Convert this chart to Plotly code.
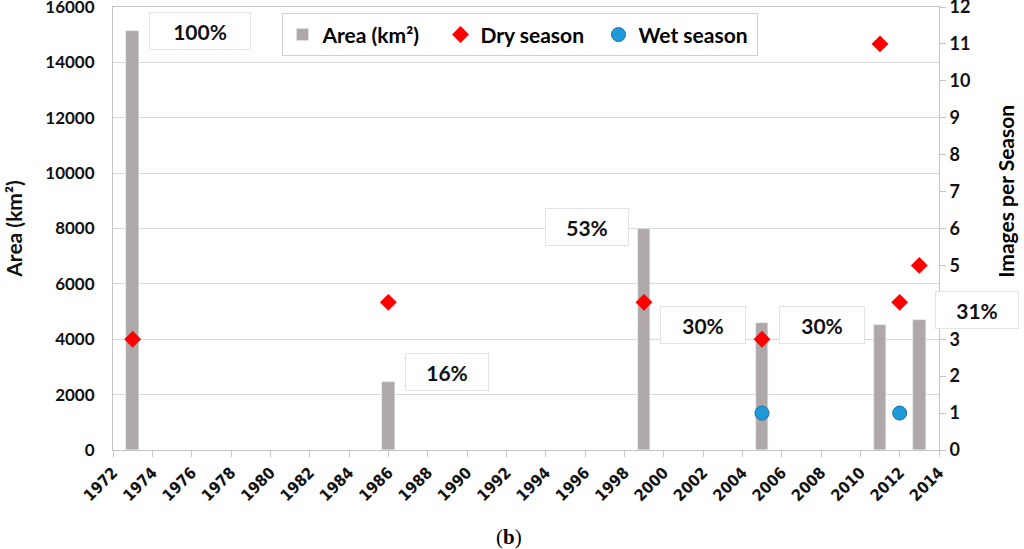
import plotly.graph_objects as go

# --- data ---
bar_years = [1973, 1986, 1999, 2005, 2011, 2013]
area_km2 = [15150, 2450, 8000, 4580, 4520, 4680]

dry_years = [1973, 1986, 1999, 2005, 2011, 2012, 2013]
dry_images = [3, 4, 4, 3, 11, 4, 5]

wet_years = [2005, 2012]
wet_images = [1, 1]

pct_labels = ["100%", "16%", "53%", "30%", "30%", "31%"]
# label box centres (paper fractions) and box widths
pct_x = [0.105, 0.404, 0.574, 0.714, 0.858, 1.046]
pct_y = [0.945, 0.177, 0.503, 0.282, 0.282, 0.316]
pct_w = [98, 80, 80, 82, 82, 80]

FONT = "Lato, 'Open Sans', sans-serif"
GRID = "#d9d9d9"
AXIS = "#c4c4c4"

fig = go.Figure()

# Barras de área
fig.add_trace(go.Bar(
    x=bar_years, y=area_km2, name="Area (km²)",
    marker_color="#aea8a8", width=0.66,
))

# Estação seca
fig.add_trace(go.Scatter(
    x=dry_years, y=dry_images, name="Dry season", yaxis="y2",
    mode="markers",
    marker=dict(symbol="diamond", size=13, color="#ff0000"),
))

# Estação chuvosa
fig.add_trace(go.Scatter(
    x=wet_years, y=wet_images, name="Wet season", yaxis="y2",
    mode="markers",
    marker=dict(symbol="circle", size=14, color="#1e9ad8",
                line=dict(color="#1b6ea3", width=1)),
))

# titulo do eixo direito (fica atras da caixa de 31%)
fig.add_annotation(
    x=1.081, y=0.585, xref="paper", yref="paper", xanchor="center", yanchor="middle",
    text="Images per Season", textangle=-90, showarrow=False,
    font=dict(family=FONT, size=21, color="#000", weight="bold"),
)

for txt, ax, ay, w in zip(pct_labels, pct_x, pct_y, pct_w):
    fig.add_annotation(
        x=ax, y=ay, xref="paper", yref="paper", xanchor="center", yanchor="middle",
        text=txt, showarrow=False,
        width=w, height=34, bgcolor="white", bordercolor="#e3e3e3",
        borderwidth=1, font=dict(family=FONT, size=21, color="#111", weight="bold"),
    )

fig.add_annotation(
    x=0.48, y=-0.196, xref="paper", yref="paper", xanchor="center", yanchor="middle",
    text="(<b>b</b>)", showarrow=False,
    font=dict(family="'Liberation Serif', serif", size=21, color="#000"),
)

fig.update_layout(
    width=1024, height=549,
    margin=dict(l=113, r=85, t=7, b=99),
    plot_bgcolor="white", paper_bgcolor="white",
    font=dict(family=FONT, color="#111"),
    bargap=0,
    legend=dict(
        orientation="h", x=0.204, y=0.937, xanchor="left", yanchor="middle",
        bgcolor="white", bordercolor="#d0d0d0", borderwidth=1,
        font=dict(family=FONT, size=21, color="#000", weight="bold"),
        itemwidth=30, entrywidth=113,
    ),
    xaxis=dict(
        range=[1972, 2014], tick0=1972, dtick=2, tickangle=-45,
        showgrid=False, showline=True, mirror=True, linecolor=AXIS, linewidth=1,
        ticks="outside", ticklen=6, tickcolor=AXIS, automargin=False,
        tickfont=dict(family="'Liberation Sans Narrow', 'DejaVu Sans Condensed', sans-serif",
                      size=16, color="#111", weight="bold"),
        zeroline=False,
    ),
    yaxis=dict(
        range=[0, 16000], dtick=2000, tickformat="d", showgrid=True, gridcolor=GRID,
        showline=True, linecolor=AXIS, zeroline=False, automargin=False,
        ticks="outside", ticklen=14, tickcolor="rgba(0,0,0,0)",
        ticklabeloverflow="allow",
        tickfont=dict(size=17, weight="bold"),
        title=dict(text="Area (km²)", font=dict(size=21, weight="bold"), standoff=16),
    ),
    yaxis2=dict(
        range=[0, 12], dtick=1, overlaying="y", side="right",
        showgrid=False, showline=True, linecolor=AXIS, zeroline=False, automargin=False,
        ticks="outside", ticklen=6, tickcolor=AXIS,
        ticklabeloverflow="allow",
        tickfont=dict(size=18, weight="bold"),
    ),
)

fig.write_html("out.html", config={"displayModeBar": False},
               post_script="document.body.style.margin='0';")
